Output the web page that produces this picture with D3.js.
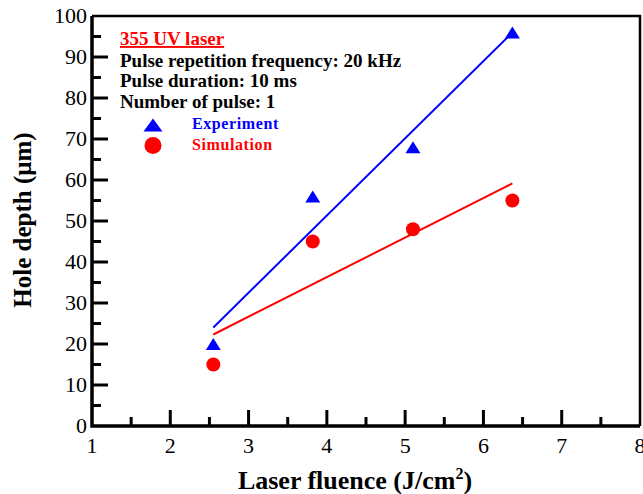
<!DOCTYPE html>
<html>
<head>
<meta charset="utf-8">
<script src="https://cdn.jsdelivr.net/npm/d3@7.9.0/dist/d3.min.js"></script>
<style>
  body { margin: 0; background: #fff; }
  svg { display: block; font-family: "Liberation Serif", "Times New Roman", serif; }
</style>
</head>
<body>
<svg id="chart" width="643" height="494"></svg>
<script>
// data
const fluence = [2.55, 3.82, 5.1, 6.37];
const experiment = [20, 56, 68, 96];
const simulation = [15, 45, 48, 55];
const xTicks = [1, 2, 3, 4, 5, 6, 7, 8];
const yTicks = [0, 10, 20, 30, 40, 50, 60, 70, 80, 90, 100];
const infoLines = ["Pulse repetition frequency: 20 kHz", "Pulse duration: 10 ms", "Number of pulse: 1"];

const svg = d3.select("#chart");
const margin = { left: 92, right: 3, top: 16, bottom: 68 };
const width = 643 - margin.left - margin.right;
const height = 494 - margin.top - margin.bottom;

const x = d3.scaleLinear().domain([1, 8]).range([margin.left, margin.left + width]);
const y = d3.scaleLinear().domain([0, 100]).range([margin.top + height, margin.top]);

// frame (top + right)
svg.append("path")
  .attr("d", `M${x(1)},${y(100)}H${x(8)}V${y(0)}`)
  .attr("fill", "none").attr("stroke", "#000").attr("stroke-width", 2.5);

// inward ticks, major and minor
const xMinor = d3.range(1.5, 8, 1);
const yMinor = d3.range(5, 100, 10);
const ticks = svg.append("g").attr("stroke", "#000").attr("stroke-width", 3);
ticks.selectAll(".xt").data(xTicks.slice(1, -1).map(v => [v, 16]).concat(xMinor.map(v => [v, 9])))
  .join("line")
  .attr("x1", d => x(d[0])).attr("x2", d => x(d[0]))
  .attr("y1", y(0)).attr("y2", d => y(0) - d[1]);
ticks.selectAll(".yt").data(yTicks.slice(1, -1).map(v => [v, 16]).concat(yMinor.map(v => [v, 9])))
  .join("line")
  .attr("y1", d => y(d[0])).attr("y2", d => y(d[0]))
  .attr("x1", x(1)).attr("x2", d => x(1) + d[1]);

// axis lines
svg.append("path")
  .attr("d", `M${x(1)},${y(100)}V${y(0)}H${x(8)}`)
  .attr("fill", "none").attr("stroke", "#000").attr("stroke-width", 3.5);

// tick labels
svg.append("g").attr("font-size", 22).attr("text-anchor", "middle")
  .selectAll("text").data(xTicks).join("text")
  .attr("x", d => x(d)).attr("y", 453).text(d => d);
svg.append("g").attr("font-size", 22).attr("text-anchor", "end")
  .selectAll("text").data(yTicks).join("text")
  .attr("x", 87).attr("y", d => y(d)).attr("dy", "0.34em").text(d => d);

// least-squares fit lines over the data range
function fit(xs, ys) {
  const mx = d3.mean(xs), my = d3.mean(ys);
  const slope = d3.sum(xs, (v, i) => (v - mx) * (ys[i] - my)) / d3.sum(xs, v => (v - mx) ** 2);
  const [x0, x1] = d3.extent(xs);
  return [[x0, my + slope * (x0 - mx)], [x1, my + slope * (x1 - mx)]];
}
const line = d3.line().x(d => x(d[0])).y(d => y(d[1]));
svg.append("path").attr("d", line(fit(fluence, experiment)))
  .attr("stroke", "#0000ff").attr("stroke-width", 2).attr("fill", "none");
svg.append("path").attr("d", line(fit(fluence, simulation)))
  .attr("stroke", "#ff0000").attr("stroke-width", 2).attr("fill", "none");

const tri = (w, h) => `M0,${-h / 2}L${w / 2},${h / 2}L${-w / 2},${h / 2}Z`;
svg.selectAll(".exp").data(fluence).join("path")
  .attr("transform", (d, i) => `translate(${x(d)},${y(experiment[i])})`)
  .attr("d", tri(15, 12)).attr("fill", "#0000ff");
svg.selectAll(".sim").data(fluence).join("circle")
  .attr("cx", d => x(d)).attr("cy", (d, i) => y(simulation[i]))
  .attr("r", 7).attr("fill", "#ff0000");

// annotation block
const info = svg.append("g").attr("font-weight", "bold").attr("font-size", 19);
info.append("text").attr("x", 120).attr("y", 45).attr("fill", "#ff0000")
  .attr("text-decoration", "underline").text("355 UV laser");
infoLines.forEach((t, i) => {
  info.append("text").attr("x", 120).attr("y", 66.5 + i * 20.7).attr("fill", "#000").text(t);
});

// legend
const legend = svg.append("g").attr("font-weight", "bold").attr("font-size", 16);
legend.append("path").attr("transform", "translate(153,125)").attr("d", tri(19, 13)).attr("fill", "#0000ff");
legend.append("circle").attr("cx", 153).attr("cy", 145.5).attr("r", 8.5).attr("fill", "#ff0000");
legend.append("text").attr("x", 192).attr("y", 129).attr("fill", "#0000ff")
  .attr("letter-spacing", 0.6).text("Experiment");
legend.append("text").attr("x", 192).attr("y", 150).attr("fill", "#ff0000")
  .attr("letter-spacing", 0.6).text("Simulation");

// axis titles
const xt = svg.append("text").attr("x", 355).attr("y", 489).attr("text-anchor", "middle")
  .attr("font-weight", "bold").attr("font-size", 26);
xt.append("tspan").text("Laser fluence (J/cm");
xt.append("tspan").attr("font-size", 16).attr("dy", -10).text("2");
xt.append("tspan").attr("dy", 10).text(")");

svg.append("text").attr("transform", "translate(31,220) rotate(-90)")
  .attr("text-anchor", "middle").attr("font-weight", "bold").attr("font-size", 25)
  .text("Hole depth (μm)");
</script>
</body>
</html>
